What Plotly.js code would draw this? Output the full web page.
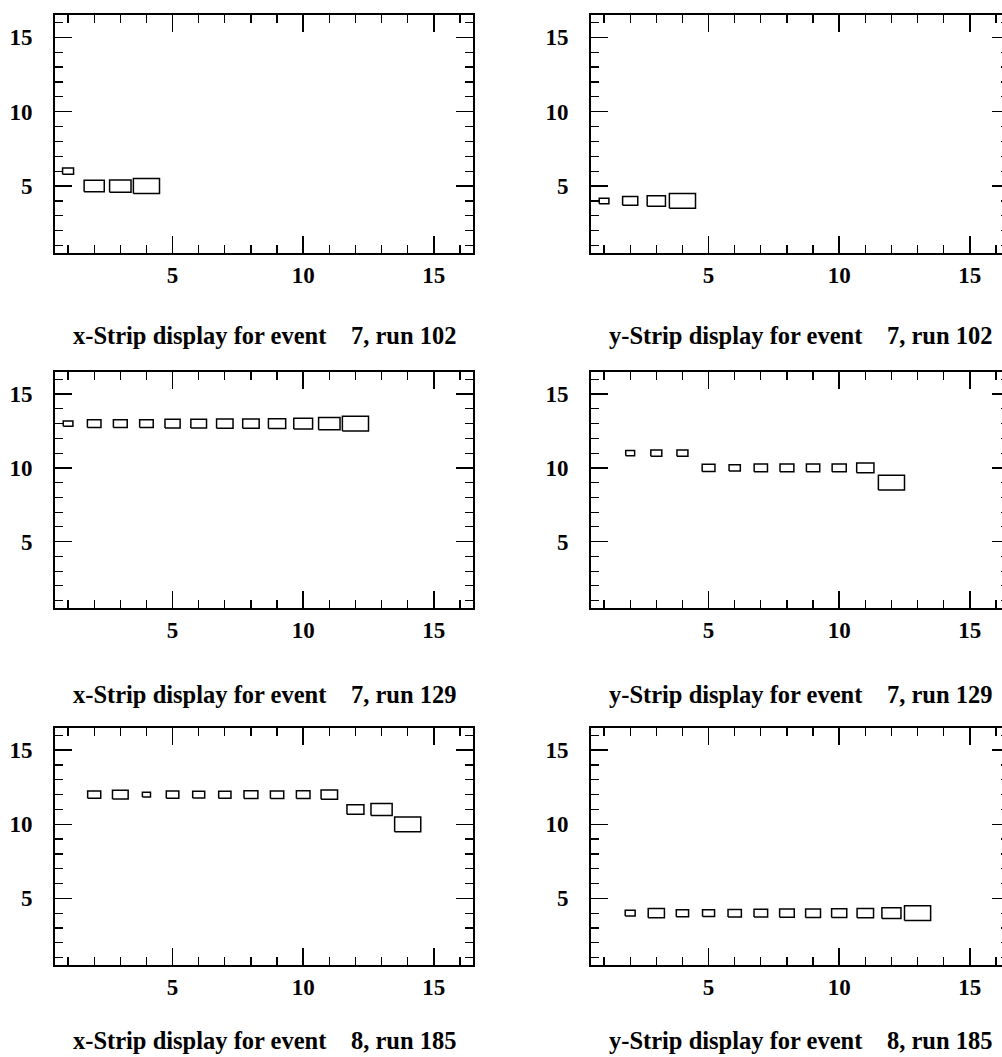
<!DOCTYPE html>
<html>
<head>
<meta charset="utf-8">
<script src="https://cdn.plot.ly/plotly-3.0.1.min.js"></script>
<style>
  html, body { margin: 0; padding: 0; background: #fff; overflow: hidden; }
  #plot { width: 1020px; height: 1057px; }
</style>
</head>
<body>
<div id="plot"></div>
<script>
// Strip hit displays: plane number (x) vs. hit strip (y), box size from pulse height.

// x-Strip, event 7, run 102
const xs102Plane  = [1, 2, 3, 4];
const xs102Strip  = [6, 5, 5, 5];
const xs102Charge = [42, 77, 82, 100];

// y-Strip, event 7, run 102
const ys102Plane  = [1, 2, 3, 4];
const ys102Strip  = [4, 4, 4, 4];
const ys102Charge = [37, 58, 70, 100];

// x-Strip, event 7, run 129
const xs129Plane  = [1, 2, 3, 4, 5, 6, 7, 8, 9, 10, 11, 12];
const xs129Strip  = [13, 13, 13, 13, 13, 13, 13, 13, 13, 13, 13, 13];
const xs129Charge = [37, 52, 53, 52, 58, 60, 63, 63, 66, 72, 82, 100];

// y-Strip, event 7, run 129
const ys129Plane  = [2, 3, 4, 5, 6, 7, 8, 9, 10, 11, 12];
const ys129Strip  = [11, 11, 11, 10, 10, 10, 10, 10, 10, 10, 9];
const ys129Charge = [34, 42, 42, 49, 43, 51, 53, 51, 54, 66, 100];

// x-Strip, event 8, run 185
const xs185Plane  = [2, 3, 4, 5, 6, 7, 8, 9, 10, 11, 12, 13, 14];
const xs185Strip  = [12, 12, 12, 12, 12, 12, 12, 12, 12, 12, 11, 11, 10];
const xs185Charge = [50, 60, 31, 48, 46, 47, 53, 51, 52, 63, 65, 81, 100];

// y-Strip, event 8, run 185
const ys185Plane  = [2, 3, 4, 5, 6, 7, 8, 9, 10, 11, 12, 13];
const ys185Strip  = [4, 4, 4, 4, 4, 4, 4, 4, 4, 4, 4, 4];
const ys185Charge = [38, 62, 47, 46, 51, 52, 56, 57, 58, 63, 73, 100];

const panelTitles = [
  'x-Strip display for event\u00a0\u00a0\u00a0\u00a07, run 102',
  'y-Strip display for event\u00a0\u00a0\u00a0\u00a07, run 102',
  'x-Strip display for event\u00a0\u00a0\u00a0\u00a07, run 129',
  'y-Strip display for event\u00a0\u00a0\u00a0\u00a07, run 129',
  'x-Strip display for event\u00a0\u00a0\u00a0\u00a08, run 185',
  'y-Strip display for event\u00a0\u00a0\u00a0\u00a08, run 185'
];

const panels = [
  [xs102Plane, xs102Strip, xs102Charge],
  [ys102Plane, ys102Strip, ys102Charge],
  [xs129Plane, xs129Strip, xs129Charge],
  [ys129Plane, ys129Strip, ys129Charge],
  [xs185Plane, xs185Strip, xs185Charge],
  [ys185Plane, ys185Strip, ys185Charge]
];

const W = 1020, H = 1057;
const colX = [[55, 473], [591, 1009]];
const rowY = [[15, 253], [372, 608], [728, 965]];
const titleY = [335, 694, 1040];

const serif = 'Liberation Serif, Times New Roman, serif';

// One closed rectangle per cell, side proportional to the cell's charge.
function boxTrace(plane, strip, charge, k) {
  const cmax = Math.max(...charge);
  const xs = [], ys = [];
  for (let i = 0; i < plane.length; i++) {
    const h = 0.5 * charge[i] / cmax;
    const x0 = plane[i] - h, x1 = plane[i] + h;
    const y0 = strip[i] - h, y1 = strip[i] + h;
    xs.push(x0, x1, x1, x0, x0, null);
    ys.push(y0, y0, y1, y1, y0, null);
  }
  const s = k === 0 ? '' : String(k + 1);
  return {
    type: 'scatter', mode: 'lines', x: xs, y: ys,
    xaxis: 'x' + s, yaxis: 'y' + s,
    line: { color: '#000', width: 1.5 },
    hoverinfo: 'skip', showlegend: false
  };
}

function axisBase(isX) {
  return {
    range: [0.5, 16.5],
    tick0: 0, dtick: 5,
    ticks: 'inside', ticklen: 17, tickwidth: 1.5, tickcolor: '#000',
    minor: { dtick: 1, tick0: 0, ticks: 'inside', ticklen: 8, tickwidth: 1.2, tickcolor: '#000' },
    showline: true, linecolor: '#000', linewidth: 1.8, mirror: 'allticks',
    showgrid: false, zeroline: false, fixedrange: true,
    ticklabelstandoff: isX ? 1 : 16,
    tickfont: { family: serif, size: 23, color: '#000', weight: 'bold' }
  };
}

const data = [];
const layout = {
  width: W, height: H,
  margin: { l: 0, r: 0, t: 0, b: 0 },
  paper_bgcolor: '#fff', plot_bgcolor: '#fff',
  showlegend: false,
  annotations: []
};

panels.forEach((p, k) => {
  data.push(boxTrace(p[0], p[1], p[2], k));
  const col = k % 2, row = Math.floor(k / 2);
  const s = k === 0 ? '' : String(k + 1);
  const xa = axisBase(true);
  xa.domain = [colX[col][0] / W, colX[col][1] / W];
  xa.anchor = 'y' + s;
  const ya = axisBase(false);
  ya.domain = [1 - rowY[row][1] / H, 1 - rowY[row][0] / H];
  ya.anchor = 'x' + s;
  layout['xaxis' + s] = xa;
  layout['yaxis' + s] = ya;
  layout.annotations.push({
    xref: 'paper', yref: 'paper',
    x: (colX[col][0] + colX[col][1]) / 2 / W,
    y: 1 - titleY[row] / H,
    xanchor: 'center', yanchor: 'middle',
    text: panelTitles[k], showarrow: false,
    font: { family: serif, size: 24.5, color: '#000', weight: 'bold' }
  });
});

Plotly.newPlot('plot', data, layout, { displayModeBar: false, staticPlot: true });
</script>
</body>
</html>
